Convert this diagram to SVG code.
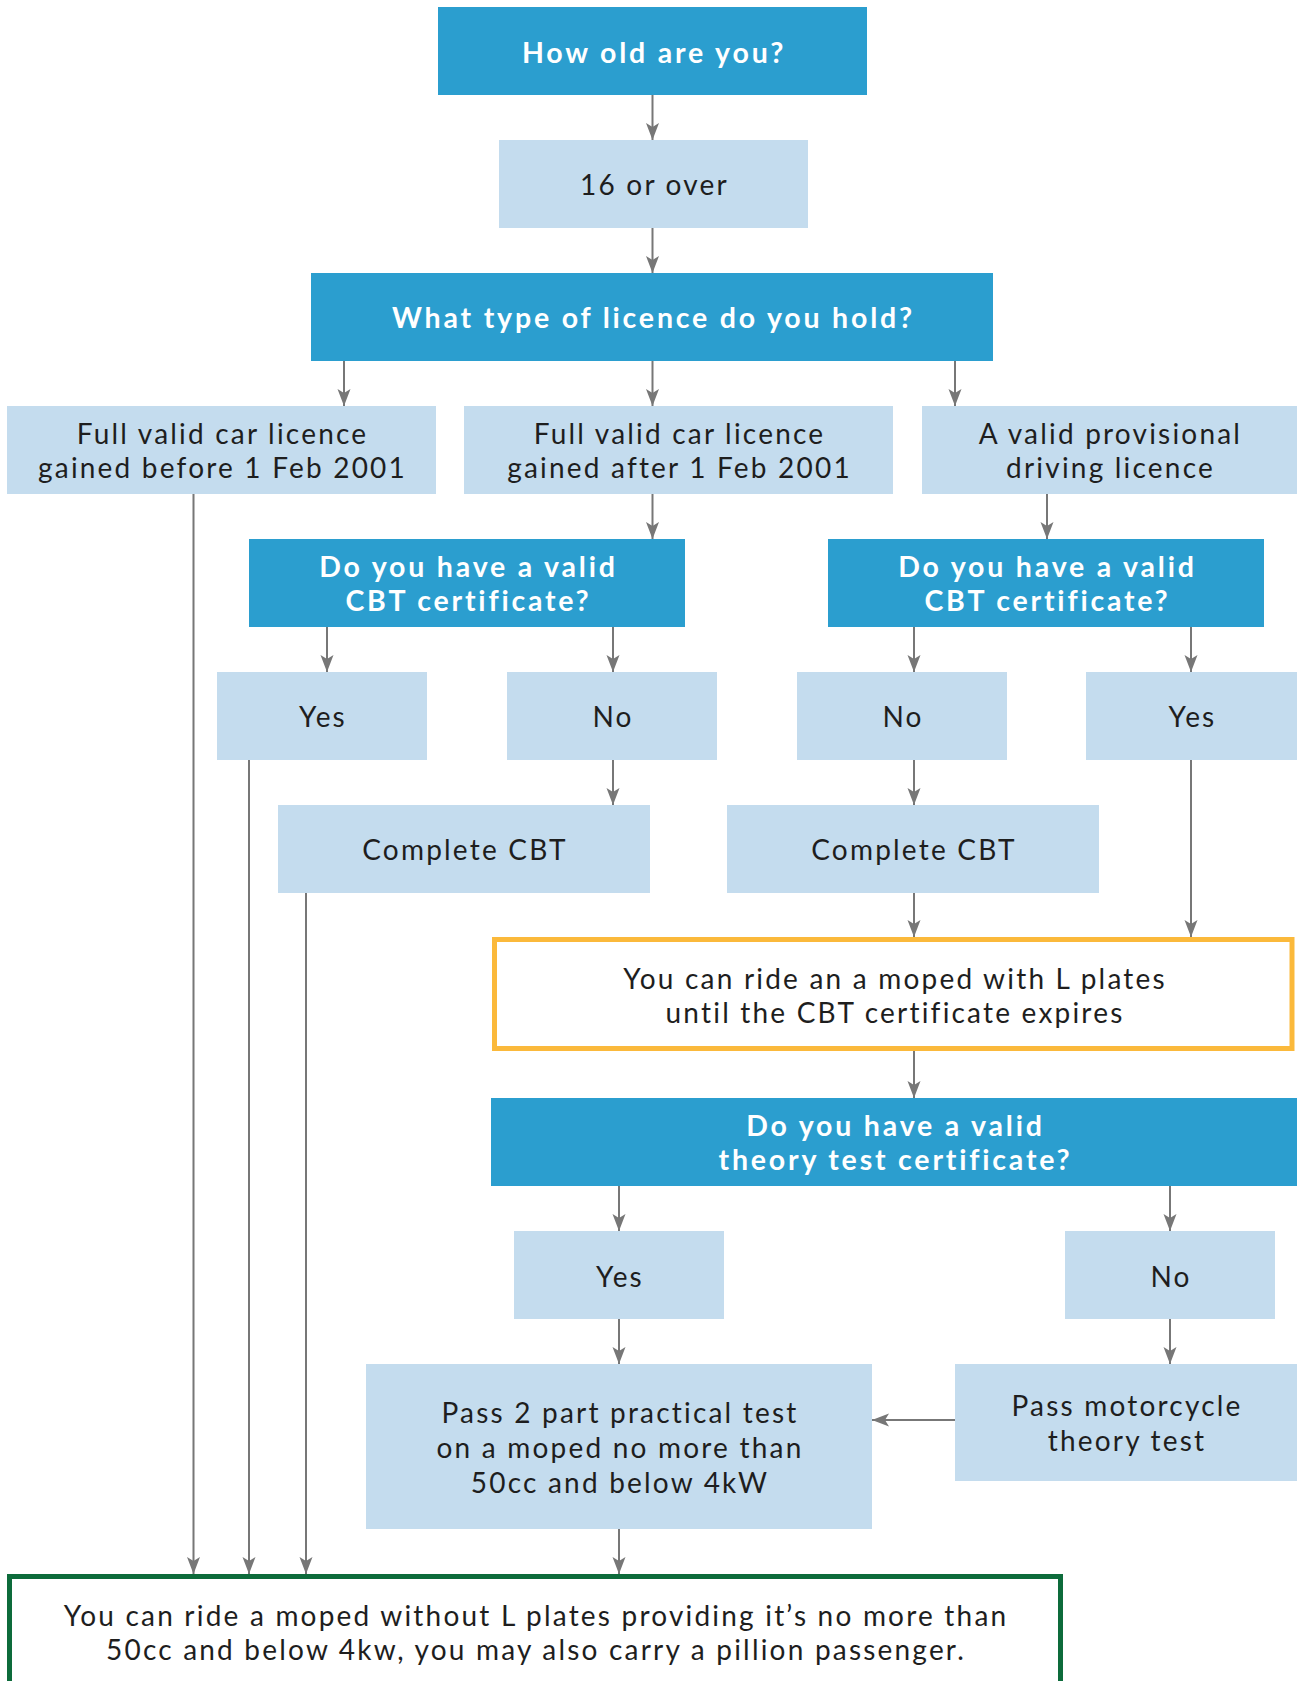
<svg xmlns="http://www.w3.org/2000/svg" width="1297" height="1681" viewBox="0 0 1297 1681">
<defs>
<style>
.q{fill:#2b9ecf}
.a{fill:#c4dcee}
.tq{font-family:Lato,"Liberation Sans",sans-serif;font-weight:bold;font-size:28.5px;letter-spacing:2.8px;fill:#ffffff;text-anchor:middle}
.ta{font-family:Lato,"Liberation Sans",sans-serif;font-size:28px;letter-spacing:2.2px;fill:#1e1e1e;text-anchor:middle}
.c line{stroke:#777777;stroke-width:2;marker-end:url(#ah)}
</style>
<marker id="ah" markerUnits="userSpaceOnUse" markerWidth="18" markerHeight="14" refX="17" refY="6.5" orient="auto">
<path d="M0,0 L17,6.5 L0,13 L4,6.5 Z" fill="#777777"/>
</marker>
</defs>
<rect width="1297" height="1681" fill="#ffffff"/>

<g id="n-age"><rect class="q" x="438" y="7" width="429" height="88"/><text class="tq" x="654" y="62.5">How old are you?</text></g>
<g id="n-16"><rect class="a" x="499" y="140" width="309" height="88"/><text class="ta" x="654.5" y="195">16 or over</text></g>
<g id="n-type"><rect class="q" x="311" y="273" width="682" height="88"/><text class="tq" x="653.5" y="328">What type of licence do you hold?</text></g>
<g id="n-before"><rect class="a" x="7" y="406" width="429" height="88"/><text class="ta" x="222.5" y="443.5">Full valid car licence</text><text class="ta" x="222.5" y="478">gained before 1 Feb 2001</text></g>
<g id="n-after"><rect class="a" x="464" y="406" width="429" height="88"/><text class="ta" x="679.5" y="443.5">Full valid car licence</text><text class="ta" x="679.5" y="478">gained after 1 Feb 2001</text></g>
<g id="n-prov"><rect class="a" x="922" y="406" width="375" height="88"/><text class="ta" x="1110.5" y="443.5">A valid provisional</text><text class="ta" x="1110.5" y="478">driving licence</text></g>
<g id="n-cbt1"><rect class="q" x="249" y="539" width="436" height="88"/><text class="tq" x="468.5" y="576.5">Do you have a valid</text><text class="tq" x="468.5" y="611">CBT certificate?</text></g>
<g id="n-cbt2"><rect class="q" x="828" y="539" width="436" height="88"/><text class="tq" x="1047.5" y="576.5">Do you have a valid</text><text class="tq" x="1047.5" y="611">CBT certificate?</text></g>
<g id="n-yes1"><rect class="a" x="217" y="672" width="210" height="88"/><text class="ta" x="323" y="727">Yes</text></g>
<g id="n-no1"><rect class="a" x="507" y="672" width="210" height="88"/><text class="ta" x="613" y="727">No</text></g>
<g id="n-no2"><rect class="a" x="797" y="672" width="210" height="88"/><text class="ta" x="903" y="727">No</text></g>
<g id="n-yes2"><rect class="a" x="1086" y="672" width="211" height="88"/><text class="ta" x="1192.5" y="727">Yes</text></g>
<g id="n-comp1"><rect class="a" x="278" y="805" width="372" height="88"/><text class="ta" x="465" y="860">Complete CBT</text></g>
<g id="n-comp2"><rect class="a" x="727" y="805" width="372" height="88"/><text class="ta" x="914" y="860">Complete CBT</text></g>
<g id="n-lplates"><rect x="494.5" y="939.5" width="797.5" height="109" fill="#ffffff" stroke="#fbb93b" stroke-width="5"/><text class="ta" x="895" y="988.5">You can ride an a moped with L plates</text><text class="ta" x="895" y="1022.5">until the CBT certificate expires</text></g>
<g id="n-theory"><rect class="q" x="491" y="1098" width="806" height="88"/><text class="tq" x="895.5" y="1135.5">Do you have a valid</text><text class="tq" x="895.5" y="1170">theory test certificate?</text></g>
<g id="n-yes3"><rect class="a" x="514" y="1231" width="210" height="88"/><text class="ta" x="620" y="1286.5">Yes</text></g>
<g id="n-no3"><rect class="a" x="1065" y="1231" width="210" height="88"/><text class="ta" x="1171" y="1286.5">No</text></g>
<g id="n-pass2"><rect class="a" x="366" y="1364" width="506" height="165"/><text class="ta" x="620" y="1422.5">Pass 2 part practical test</text><text class="ta" x="620" y="1458">on a moped no more than</text><text class="ta" x="620" y="1493">50cc and below 4kW</text></g>
<g id="n-passmoto"><rect class="a" x="955" y="1364" width="342" height="117"/><text class="ta" x="1127" y="1416">Pass motorcycle</text><text class="ta" x="1127" y="1451">theory test</text></g>
<g id="n-final"><rect x="9.5" y="1576.5" width="1051" height="120" fill="#ffffff" stroke="#0d6b3b" stroke-width="5"/><text class="ta" x="536" y="1625.5">You can ride a moped without L plates providing it’s no more than</text><text class="ta" x="536" y="1660">50cc and below 4kw, you may also carry a pillion passenger.</text></g>

<g id="connectors" class="c">
<line x1="652.5" y1="95" x2="652.5" y2="140"/>
<line x1="652.5" y1="228" x2="652.5" y2="273"/>
<line x1="344" y1="361" x2="344" y2="406"/>
<line x1="652.5" y1="361" x2="652.5" y2="406"/>
<line x1="955" y1="361" x2="955" y2="406"/>
<line x1="193.5" y1="494" x2="193.5" y2="1574"/>
<line x1="652.5" y1="494" x2="652.5" y2="539"/>
<line x1="1047" y1="494" x2="1047" y2="539"/>
<line x1="327" y1="627" x2="327" y2="672"/>
<line x1="613" y1="627" x2="613" y2="672"/>
<line x1="914" y1="627" x2="914" y2="672"/>
<line x1="1191" y1="627" x2="1191" y2="672"/>
<line x1="249" y1="760" x2="249" y2="1574"/>
<line x1="613" y1="760" x2="613" y2="805"/>
<line x1="914" y1="760" x2="914" y2="805"/>
<line x1="306" y1="893" x2="306" y2="1574"/>
<line x1="914" y1="893" x2="914" y2="937"/>
<line x1="1191" y1="760" x2="1191" y2="937"/>
<line x1="914" y1="1051" x2="914" y2="1098"/>
<line x1="619" y1="1186" x2="619" y2="1231"/>
<line x1="1170" y1="1186" x2="1170" y2="1231"/>
<line x1="619" y1="1319" x2="619" y2="1364"/>
<line x1="1170" y1="1319" x2="1170" y2="1364"/>
<line x1="955" y1="1420" x2="872" y2="1420"/>
<line x1="619" y1="1529" x2="619" y2="1574"/>
</g>
</svg>
